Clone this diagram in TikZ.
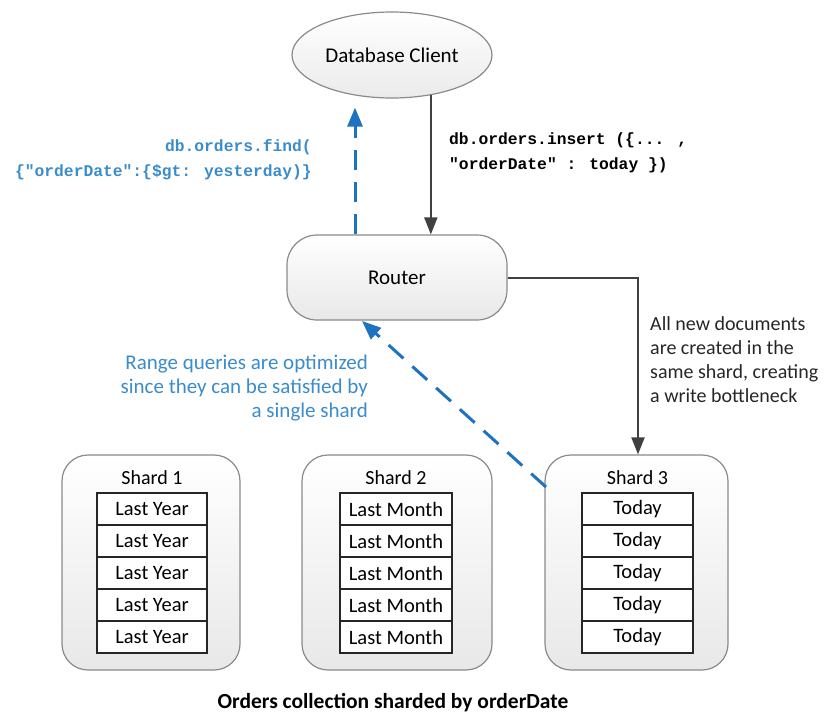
\documentclass[tikz,border=0pt]{standalone}
\usepackage{fontspec}
\setmainfont{Carlito}
\newfontfamily\codefont{Liberation Mono}
\usetikzlibrary{arrows.meta,shapes.geometric,calc}
\definecolor{bluetxt}{HTML}{3A8CCB}
\definecolor{bluearr}{HTML}{1F72C0}
\definecolor{boxline}{HTML}{8A8A8A}
\tikzset{
  graybox/.style={draw=boxline, line width=1.2pt, rounded corners=26pt, top color=white, bottom color=black!9, inner sep=0pt},
  cell/.style={draw=black!85, line width=1.3pt, fill=white, minimum height=32pt, inner sep=0pt, font=\fontsize{20.5}{22}\selectfont},
  darrow/.style={draw=black!75, line width=2pt, -{Triangle[length=17pt,width=13pt]}},
  barrow/.style={draw=bluearr, line width=3pt, dash pattern=on 20pt off 12pt, -{Triangle[length=19pt,width=15pt]}},
  lbl/.style={inner sep=0pt, font=\fontsize{20}{24}\selectfont},
  codelbl/.style={inner sep=0pt, font=\codefont\bfseries\fontsize{16.3}{25}\selectfont},
}
\begin{document}
\begin{tikzpicture}[x=1pt,y=-1pt]
\useasboundingbox (0,0) rectangle (832,720);
% client
\node[ellipse, draw=boxline, line width=1.2pt, top color=white, bottom color=black!8, minimum width=200pt, minimum height=86pt, inner sep=0pt, font=\fontsize{21}{24}\selectfont] (client) at (392,55) {Database Client};
% router
\node[draw=boxline, line width=1.2pt, rounded corners=30pt, top color=white, bottom color=black!9, minimum width=220pt, minimum height=85pt, inner sep=0pt, font=\fontsize{21}{24}\selectfont] (router) at (397,277.5) {Router};
% shards
\node[graybox, minimum width=178pt, minimum height=215pt] (s1) at (151,562.5) {};
\node[graybox, minimum width=190pt, minimum height=215pt] (s2) at (397,562.5) {};
\node[graybox, minimum width=183pt, minimum height=215pt] (s3) at (636.5,562.5) {};
\node[lbl, font=\fontsize{20}{22}\selectfont] (s1t) at (152,478) {Shard 1};
\node[lbl, font=\fontsize{20}{22}\selectfont] (s2t) at (396,478) {Shard 2};
\node[lbl, font=\fontsize{20}{22}\selectfont] (s3t) at (637.5,478) {Shard 3};
\foreach \i in {0,...,4}{
  \node[cell, minimum width=110pt] (s1c\i) at (152,509+32*\i) {Last Year};
  \node[cell, minimum width=112pt] (s2c\i) at (396,509+32*\i) {Last Month};
  \node[cell, minimum width=111pt] (s3c\i) at (637.5,509+32*\i) {Today};
}
% connectors
\coordinate (bupx) at (355,0);
\draw[barrow, shorten >=9pt] (bupx |- router.north) -- (bupx |- client.south);
\draw[darrow] (client.-46.5) -- (client.-46.5 |- router.north);
\coordinate (wx) at (638,0);
\draw[darrow] (router.east) -- (wx |- router.east) -- (wx |- s3.north);
\coordinate (bstart) at (546,487);
\coordinate (bend) at (362,321);
\draw[barrow] (bstart) -- (bend);
% labels
\node[codelbl, text=bluetxt, align=right, anchor=east] (findtxt) at (312,160) {db.orders.find(\\\{"orderDate":\{\$gt: yesterday)\}};
\node[codelbl, align=left, anchor=west] (instxt) at (449,153) {db.orders.insert (\{... ,\\"orderDate" : today \})};
\node[lbl, text=bluetxt, align=right, anchor=east, font=\fontsize{21}{24}\selectfont] (rangetxt) at (368,388) {Range queries are optimized\\since they can be satisfied by\\a single shard};
\node[lbl, text=black!85, align=left, anchor=west] (alltxt) at (650,360) {All new documents\\are created in the\\same shard, creating\\a write bottleneck};
\node[lbl, font=\bfseries\fontsize{21.5}{24}\selectfont] (caption) at (393,703) {Orders collection sharded by orderDate};
\end{tikzpicture}
\end{document}
